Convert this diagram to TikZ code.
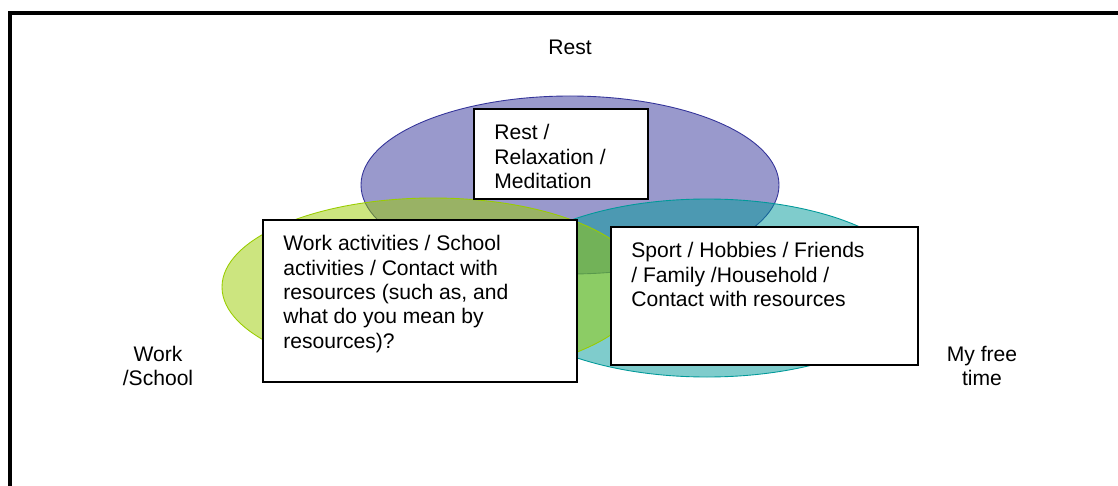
\documentclass[tikz,border=0pt]{standalone}
\usepackage{fontspec}
\setmainfont{Liberation Sans}
\usepackage{tikz}
\usetikzlibrary{positioning}

\definecolor{restblue}{HTML}{333399}
\definecolor{workgreen}{HTML}{99CC00}
\definecolor{freeteal}{HTML}{009999}

\begin{document}
\begin{tikzpicture}[x=0.02cm,y=-0.02cm,
    box/.style={draw=black, line width=1.1pt, fill=white, anchor=north west, inner sep=0pt},
    boxtext/.style={anchor=north west, align=left, inner sep=0pt, font=\fontsize{12}{13.9}\selectfont},
    areatext/.style={align=center, inner sep=0pt, font=\fontsize{12}{13.9}\selectfont},
    area/.style={fill opacity=.5, line width=.5pt}]
    \useasboundingbox (0,0) rectangle (1118,486);
    \clip (0,0) rectangle (1118,486);
    % slide frame
    \draw[line width=2pt] (10,13) rectangle (1150,520);
    % the three areas
    \filldraw[area, fill=restblue, draw=restblue] (570,185) ellipse [x radius=209, y radius=89];
    \filldraw[area, fill=freeteal, draw=freeteal] (707,288) ellipse [x radius=210, y radius=89];
    \filldraw[area, fill=workgreen, draw=workgreen] (433,287) ellipse [x radius=211, y radius=89];
    % area names
    \node[areatext] (rest) at (570,47) {Rest};
    \node[areatext] (work) at (158,366) {Work\\/School};
    \node[areatext] (free) at (982,366) {My free\\time};
    % boxes
    \node[box, minimum width=3.48cm, minimum height=1.8cm] (restbox) at (473,108) {};
    \node[boxtext] (resttext) at ([shift={(21,16)}]restbox.north west)
        {Rest /\\Relaxation /\\Meditation};
    \node[box, minimum width=6.28cm, minimum height=3.24cm] (workbox) at (262,219) {};
    \node[boxtext] (worktext) at ([shift={(21,16)}]workbox.north west)
        {Work activities / School\\activities / Contact with\\resources (such as, and\\what do you mean by\\resources)?};
    \node[box, minimum width=6.14cm, minimum height=2.76cm] (freebox) at (610,226) {};
    \node[boxtext] (freetext) at ([shift={(21,16)}]freebox.north west)
        {Sport / Hobbies / Friends\\/ Family /Household /\\Contact with resources};
\end{tikzpicture}
\end{document}
